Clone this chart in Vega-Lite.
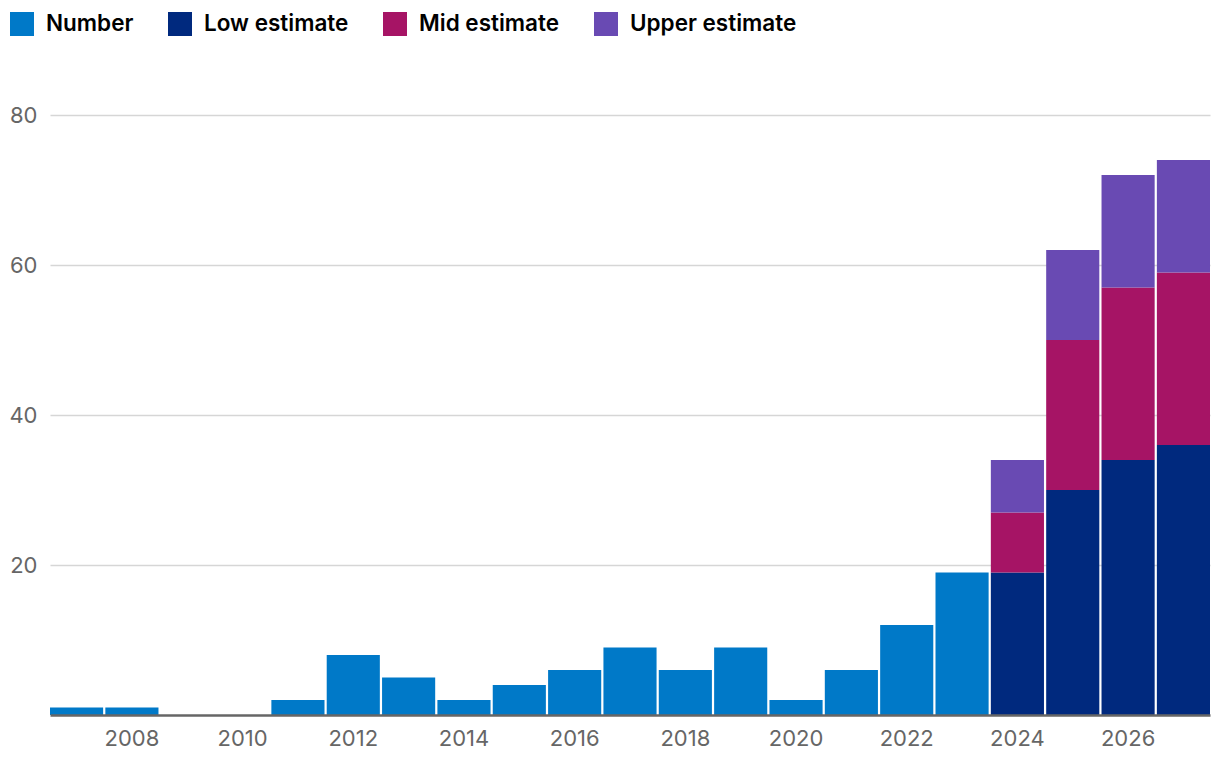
{
  "$schema": "https://vega.github.io/schema/vega-lite/v6.json",
  "width": 1160,
  "height": 600,
  "autosize": {"type": "none"},
  "padding": {"left": 50, "top": 115, "right": 10, "bottom": 53},
  "background": "white",
  "data": {
    "values": [
      {"year": 2007, "series": "Number", "value": 1, "o": 0},
      {"year": 2008, "series": "Number", "value": 1, "o": 0},
      {"year": 2009, "series": "Number", "value": 0, "o": 0},
      {"year": 2010, "series": "Number", "value": 0, "o": 0},
      {"year": 2011, "series": "Number", "value": 2, "o": 0},
      {"year": 2012, "series": "Number", "value": 8, "o": 0},
      {"year": 2013, "series": "Number", "value": 5, "o": 0},
      {"year": 2014, "series": "Number", "value": 2, "o": 0},
      {"year": 2015, "series": "Number", "value": 4, "o": 0},
      {"year": 2016, "series": "Number", "value": 6, "o": 0},
      {"year": 2017, "series": "Number", "value": 9, "o": 0},
      {"year": 2018, "series": "Number", "value": 6, "o": 0},
      {"year": 2019, "series": "Number", "value": 9, "o": 0},
      {"year": 2020, "series": "Number", "value": 2, "o": 0},
      {"year": 2021, "series": "Number", "value": 6, "o": 0},
      {"year": 2022, "series": "Number", "value": 12, "o": 0},
      {"year": 2023, "series": "Number", "value": 19, "o": 0},
      {"year": 2024, "series": "Low estimate", "value": 19, "o": 1},
      {"year": 2024, "series": "Mid estimate", "value": 8, "o": 2},
      {"year": 2024, "series": "Upper estimate", "value": 7, "o": 3},
      {"year": 2025, "series": "Low estimate", "value": 30, "o": 1},
      {"year": 2025, "series": "Mid estimate", "value": 20, "o": 2},
      {"year": 2025, "series": "Upper estimate", "value": 12, "o": 3},
      {"year": 2026, "series": "Low estimate", "value": 34, "o": 1},
      {"year": 2026, "series": "Mid estimate", "value": 23, "o": 2},
      {"year": 2026, "series": "Upper estimate", "value": 15, "o": 3},
      {"year": 2027, "series": "Low estimate", "value": 36, "o": 1},
      {"year": 2027, "series": "Mid estimate", "value": 23, "o": 2},
      {"year": 2027, "series": "Upper estimate", "value": 15, "o": 3}
    ]
  },
  "mark": {"type": "bar"},
  "encoding": {
    "x": {
      "field": "year",
      "type": "ordinal",
      "scale": {"paddingInner": 0.04, "paddingOuter": 0},
      "axis": {
        "title": null,
        "values": [2008, 2010, 2012, 2014, 2016, 2018, 2020, 2022, 2024, 2026],
        "labelAngle": 0,
        "ticks": false,
        "zindex": 1,
        "domainColor": "#666666",
        "domainWidth": 2.5,
        "labelColor": "#666666",
        "labelFont": "Inter",
        "labelFontSize": 22,
        "labelPadding": 13,
        "grid": false
      }
    },
    "y": {
      "field": "value",
      "type": "quantitative",
      "stack": "zero",
      "scale": {"domain": [0, 80], "nice": false},
      "axis": {
        "title": null,
        "values": [20, 40, 60, 80],
        "domain": false,
        "ticks": false,
        "grid": true,
        "gridColor": "#d6d6d6",
        "gridWidth": 1.5,
        "labelColor": "#666666",
        "labelFont": "Inter",
        "labelFontSize": 22,
        "labelPadding": 13
      }
    },
    "color": {
      "field": "series",
      "type": "nominal",
      "scale": {
        "domain": ["Number", "Low estimate", "Mid estimate", "Upper estimate"],
        "range": ["#0079C8", "#00297E", "#A61465", "#694AB3"]
      },
      "legend": {
        "title": null,
        "orient": "none",
        "legendX": -40,
        "legendY": -103,
        "direction": "horizontal",
        "symbolType": "square",
        "symbolSize": 576,
        "symbolStrokeWidth": 0,
        "symbolOpacity": 1,
        "labelFont": "Inter",
        "labelFontSize": 22.5,
        "labelFontWeight": 600,
        "labelColor": "#000000",
        "labelOffset": 12,
        "labelLimit": 400,
        "columnPadding": 34
      }
    },
    "order": {"field": "o", "type": "quantitative"}
  },
  "config": {"view": {"stroke": null}}
}
